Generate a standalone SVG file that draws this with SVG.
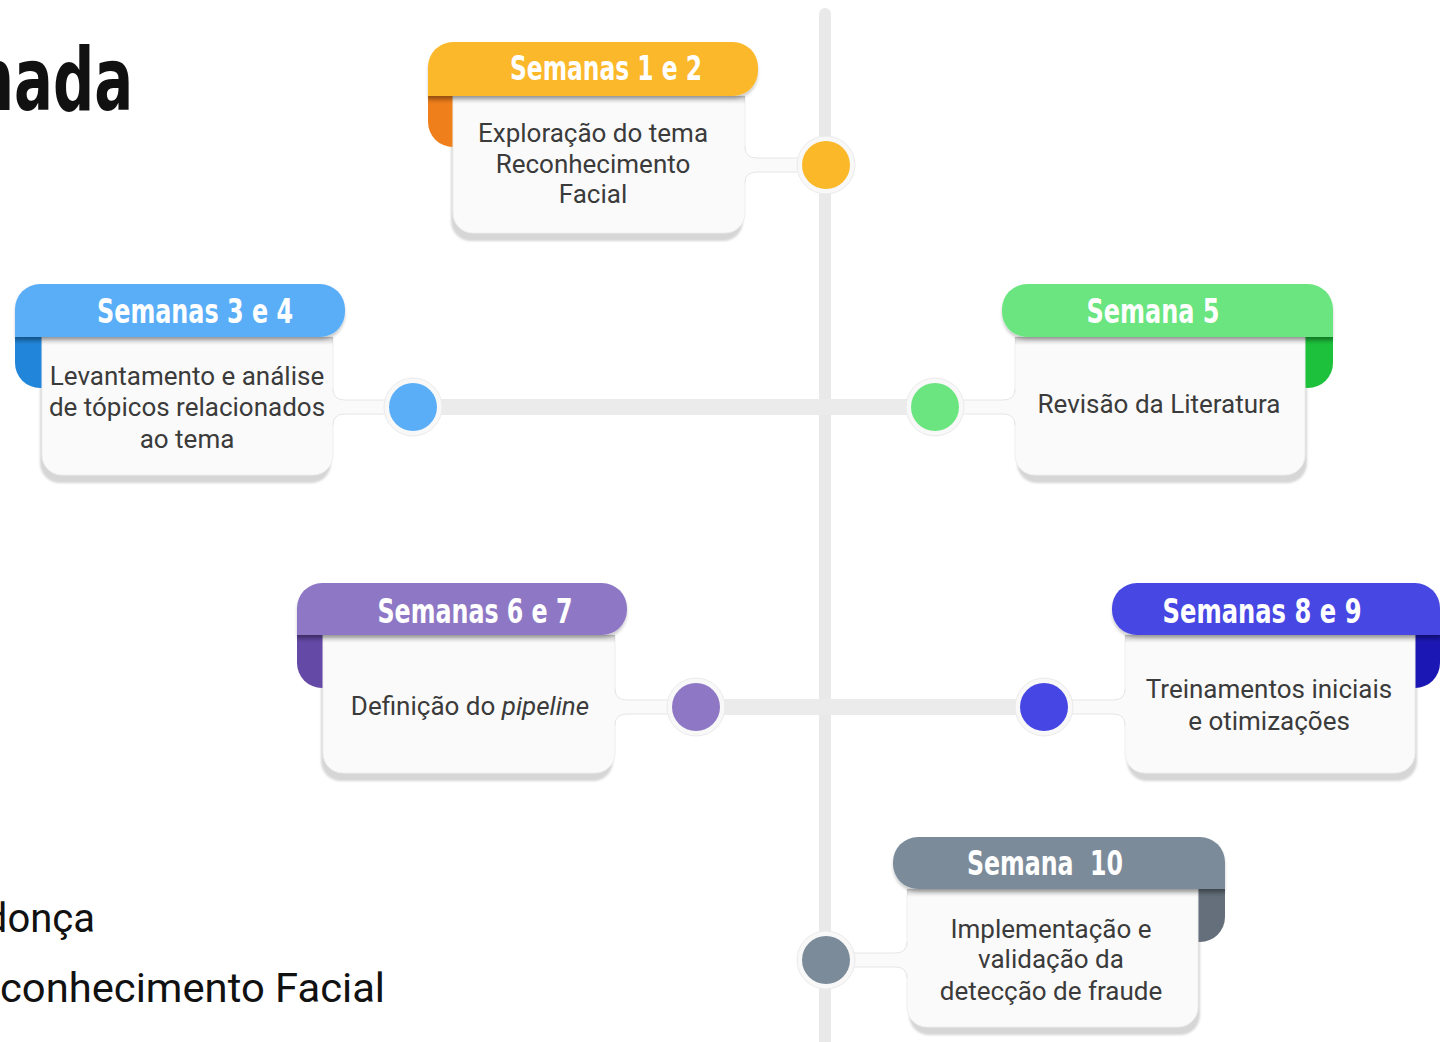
<svg xmlns="http://www.w3.org/2000/svg" width="1440" height="1042" viewBox="0 0 1440 1042">
<defs>
<style>
.hdr{font-family:"Liberation Sans Narrow","DejaVu Sans Condensed","Roboto Condensed",sans-serif;font-weight:bold;font-size:34px;fill:#fff;text-anchor:middle}
.bt{font-family:Roboto,"Noto Sans",sans-serif;font-size:26px;fill:#3b3b3b;text-anchor:middle}
.body{fill:#fafafa;stroke:#eeeeee;stroke-width:1}
.shadow{fill:#d6d6d6}
.neck{fill:#fafafa}
.neckline{fill:none;stroke:#e6e6e6;stroke-width:1}
.ring{fill:#f8f8f8;stroke:#ebebeb;stroke-width:1}
.conn{stroke:#ebebeb;stroke-width:16;fill:none}
.bl{font-family:Roboto,"Noto Sans",sans-serif;font-size:40px;fill:#111}
</style>
<linearGradient id="hs" x1="0" y1="0" x2="0" y2="1">
<stop offset="0" stop-color="#000" stop-opacity="0.22"/>
<stop offset="1" stop-color="#000" stop-opacity="0"/>
</linearGradient>
<filter id="ds" x="-10%" y="-20%" width="120%" height="160%">
<feDropShadow dx="0" dy="3" stdDeviation="1.5" flood-color="#000" flood-opacity="0.2"/>
</filter>
<filter id="blur1"><feGaussianBlur stdDeviation="1"/></filter>
</defs>
<rect width="1440" height="1042" fill="#ffffff"/>

<text x="-27" y="110" font-family="'Liberation Sans Narrow','DejaVu Sans Condensed',sans-serif" font-weight="bold" font-size="88" fill="#111" textLength="160" lengthAdjust="spacingAndGlyphs">nada</text>
<text class="bl" x="95" y="932" text-anchor="end">donça</text>
<text class="bl" x="0" y="1002" textLength="385" lengthAdjust="spacingAndGlyphs">conhecimento Facial</text>

<g id="connectors">
<rect x="819" y="8" width="12" height="1040" rx="6" fill="#e9e9e9"/>
<line class="conn" x1="413" y1="407" x2="935" y2="407"/>
<line class="conn" x1="696" y1="707" x2="1044" y2="707"/>
</g>

<g id="card1">
<path class="shadow" filter="url(#blur1)" transform="translate(-2,8)" d="M453,96 H745 V213 A20 20 0 0 1 725,233 H473 A20 20 0 0 1 453,213 Z"/>
<rect x="428" y="70" width="50" height="77" rx="25" fill="#EE7F1A"/>
<path class="body" d="M453,96 H745 V213 A20 20 0 0 1 725,233 H473 A20 20 0 0 1 453,213 Z"/>
<path class="neck" d="M744,147 Q745,158 757,158 H826 V172 H757 Q745,172 744,183 Z"/>
<path class="neckline" d="M745,147 Q745,158 757,158 H802 M745,183 Q745,172 757,172 H802"/>
<rect x="428" y="96" width="317" height="8" fill="url(#hs)"/>
<path filter="url(#ds)" fill="#FBB829" d="M428,96 V67 A25 25 0 0 1 453,42 H733 A25 25 0 0 1 758,67 V71 A25 25 0 0 1 733,96 Z"/>
<text class="hdr" x="606" y="80" textLength="192" lengthAdjust="spacingAndGlyphs">Semanas 1 e 2</text>
<text class="bt" x="593" y="142">Exploração do tema</text>
<text class="bt" x="593" y="173">Reconhecimento</text>
<text class="bt" x="593" y="203">Facial</text>
<circle class="ring" cx="826" cy="165" r="29"/>
<circle cx="826" cy="165" r="24" fill="#FBB829"/>
</g>

<g id="card2">
<path class="shadow" filter="url(#blur1)" transform="translate(-2,8)" d="M42,337 H333 V455 A20 20 0 0 1 313,475 H62 A20 20 0 0 1 42,455 Z"/>
<rect x="15" y="310" width="50" height="78" rx="25" fill="#2186DA"/>
<path class="body" d="M42,337 H333 V455 A20 20 0 0 1 313,475 H62 A20 20 0 0 1 42,455 Z"/>
<path class="neck" d="M332,389 Q333,400 345,400 H413 V414 H345 Q333,414 332,425 Z"/>
<path class="neckline" d="M333,389 Q333,400 345,400 H389 M333,425 Q333,414 345,414 H389"/>
<rect x="15" y="337" width="318" height="8" fill="url(#hs)"/>
<path filter="url(#ds)" fill="#5AAEF8" d="M15,337 V309 A25 25 0 0 1 40,284 H320 A25 25 0 0 1 345,309 V312 A25 25 0 0 1 320,337 Z"/>
<text class="hdr" x="195" y="323" textLength="196" lengthAdjust="spacingAndGlyphs">Semanas 3 e 4</text>
<text class="bt" x="187" y="385">Levantamento e análise</text>
<text class="bt" x="187" y="416">de tópicos relacionados</text>
<text class="bt" x="187" y="448">ao tema</text>
<circle class="ring" cx="413" cy="407" r="29"/>
<circle cx="413" cy="407" r="24" fill="#5AAEF8"/>
</g>

<g id="card3">
<path class="shadow" filter="url(#blur1)" transform="translate(2,8)" d="M1015,337 H1305 V455 A20 20 0 0 1 1285,475 H1035 A20 20 0 0 1 1015,455 Z"/>
<rect x="1283" y="310" width="50" height="78" rx="25" fill="#1DC13B"/>
<path class="body" d="M1015,337 H1305 V455 A20 20 0 0 1 1285,475 H1035 A20 20 0 0 1 1015,455 Z"/>
<path class="neck" d="M1016,389 Q1015,400 1003,400 H935 V414 H1003 Q1015,414 1016,425 Z"/>
<path class="neckline" d="M1015,389 Q1015,400 1003,400 H959 M1015,425 Q1015,414 1003,414 H959"/>
<rect x="1015" y="337" width="318" height="8" fill="url(#hs)"/>
<path filter="url(#ds)" fill="#6BE57F" d="M1333,337 V309 A25 25 0 0 0 1308,284 H1027 A25 25 0 0 0 1002,309 V312 A25 25 0 0 0 1027,337 Z"/>
<text class="hdr" x="1153" y="323" textLength="133" lengthAdjust="spacingAndGlyphs">Semana 5</text>
<text class="bt" x="1159" y="413">Revisão da Literatura</text>
<circle class="ring" cx="935" cy="407" r="29"/>
<circle cx="935" cy="407" r="24" fill="#6BE57F"/>
</g>

<g id="card4">
<path class="shadow" filter="url(#blur1)" transform="translate(-2,8)" d="M323,635 H615 V753 A20 20 0 0 1 595,773 H343 A20 20 0 0 1 323,753 Z"/>
<rect x="297" y="610" width="50" height="78" rx="25" fill="#6549A6"/>
<path class="body" d="M323,635 H615 V753 A20 20 0 0 1 595,773 H343 A20 20 0 0 1 323,753 Z"/>
<path class="neck" d="M614,689 Q615,700 627,700 H696 V714 H627 Q615,714 614,725 Z"/>
<path class="neckline" d="M615,689 Q615,700 627,700 H672 M615,725 Q615,714 627,714 H672"/>
<rect x="297" y="635" width="318" height="8" fill="url(#hs)"/>
<path filter="url(#ds)" fill="#8E78C5" d="M297,635 V608 A25 25 0 0 1 322,583 H602 A25 25 0 0 1 627,608 V610 A25 25 0 0 1 602,635 Z"/>
<text class="hdr" x="475" y="623" textLength="195" lengthAdjust="spacingAndGlyphs">Semanas 6 e 7</text>
<text class="bt" x="470" y="715">Definição do <tspan font-style="italic">pipeline</tspan></text>
<circle class="ring" cx="696" cy="707" r="29"/>
<circle cx="696" cy="707" r="24" fill="#8E78C5"/>
</g>

<g id="card5">
<path class="shadow" filter="url(#blur1)" transform="translate(2,8)" d="M1125,635 H1415 V753 A20 20 0 0 1 1395,773 H1145 A20 20 0 0 1 1125,753 Z"/>
<rect x="1390" y="610" width="50" height="78" rx="25" fill="#1B17B5"/>
<path class="body" d="M1125,635 H1415 V753 A20 20 0 0 1 1395,773 H1145 A20 20 0 0 1 1125,753 Z"/>
<path class="neck" d="M1126,689 Q1125,700 1113,700 H1044 V714 H1113 Q1125,714 1126,725 Z"/>
<path class="neckline" d="M1125,689 Q1125,700 1113,700 H1068 M1125,725 Q1125,714 1113,714 H1068"/>
<rect x="1125" y="635" width="315" height="8" fill="url(#hs)"/>
<path filter="url(#ds)" fill="#4646E4" d="M1440,635 V608 A25 25 0 0 0 1415,583 H1137 A25 25 0 0 0 1112,608 V610 A25 25 0 0 0 1137,635 Z"/>
<text class="hdr" x="1262" y="623" textLength="199" lengthAdjust="spacingAndGlyphs">Semanas 8 e 9</text>
<text class="bt" x="1269" y="698">Treinamentos iniciais</text>
<text class="bt" x="1269" y="730">e otimizações</text>
<circle class="ring" cx="1044" cy="707" r="29"/>
<circle cx="1044" cy="707" r="24" fill="#4646E4"/>
</g>

<g id="card6">
<path class="shadow" filter="url(#blur1)" transform="translate(2,8)" d="M907,889 H1198 V1007 A20 20 0 0 1 1178,1027 H927 A20 20 0 0 1 907,1007 Z"/>
<rect x="1175" y="864" width="50" height="78" rx="25" fill="#646F7B"/>
<path class="body" d="M907,889 H1198 V1007 A20 20 0 0 1 1178,1027 H927 A20 20 0 0 1 907,1007 Z"/>
<path class="neck" d="M908,942 Q907,953 895,953 H826 V967 H895 Q907,967 908,978 Z"/>
<path class="neckline" d="M907,942 Q907,953 895,953 H850 M907,978 Q907,967 895,967 H850"/>
<rect x="907" y="889" width="318" height="8" fill="url(#hs)"/>
<path filter="url(#ds)" fill="#7B8B9A" d="M1225,889 V862 A25 25 0 0 0 1200,837 H918 A25 25 0 0 0 893,862 V864 A25 25 0 0 0 918,889 Z"/>
<text class="hdr" x="1045" y="875" textLength="156" lengthAdjust="spacingAndGlyphs" xml:space="preserve">Semana  10</text>
<text class="bt" x="1051" y="938">Implementação e</text>
<text class="bt" x="1051" y="968">validação da</text>
<text class="bt" x="1051" y="1000">detecção de fraude</text>
<circle class="ring" cx="826" cy="960" r="29"/>
<circle cx="826" cy="960" r="24" fill="#7B8B9A"/>
</g>
</svg>
